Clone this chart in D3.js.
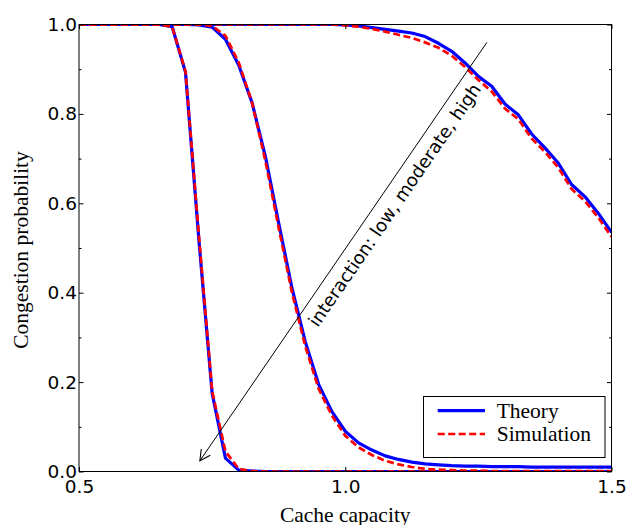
<!DOCTYPE html>
<html>
<head>
<meta charset="utf-8">
<script src="https://cdn.jsdelivr.net/npm/d3@7"></script>
<style>
  body { margin: 0; background: #fff; }
  svg { display: block; }
</style>
</head>
<body>
<svg id="chart" width="629" height="525"></svg>
<script>
// cache capacity values (x)
var capacity = [0.5, 0.525, 0.55, 0.575, 0.6, 0.625, 0.65, 0.675, 0.7, 0.725,
  0.75, 0.775, 0.8, 0.825, 0.85, 0.875, 0.9, 0.925, 0.95, 0.975,
  1.0, 1.025, 1.05, 1.075, 1.1, 1.125, 1.15, 1.175, 1.2, 1.225,
  1.25, 1.275, 1.3, 1.325, 1.35, 1.375, 1.4, 1.425, 1.45, 1.475, 1.5];

// theory curves
var theoryLow = [1, 1, 1, 1, 1, 1, 1, 0.995, 0.893, 0.52,
  0.175, 0.03, 0.003, 0.001, 0, 0, 0, 0, 0, 0,
  0, 0, 0, 0, 0, 0, 0, 0, 0, 0,
  0, 0, 0, 0, 0, 0, 0, 0, 0, 0, 0];
var theoryMid = [1, 1, 1, 1, 1, 1, 1, 1, 1, 0.999,
  0.994, 0.967, 0.909, 0.825, 0.705, 0.556, 0.41, 0.29, 0.195, 0.134,
  0.09, 0.064, 0.048, 0.035, 0.027, 0.021, 0.017, 0.015, 0.013, 0.012,
  0.012, 0.011, 0.011, 0.011, 0.01, 0.01, 0.01, 0.01, 0.01, 0.01, 0.01];
var theoryHigh = [1, 1, 1, 1, 1, 1, 1, 1, 1, 1,
  1, 1, 1, 1, 1, 1, 1, 1, 1, 1,
  0.999, 0.997, 0.993, 0.989, 0.985, 0.981, 0.973, 0.958, 0.94, 0.914,
  0.884, 0.862, 0.822, 0.798, 0.755, 0.724, 0.69, 0.642, 0.615, 0.578, 0.535];

// simulation curves
var simLow = [1, 1, 1, 1, 1, 1, 1, 0.995, 0.895, 0.53,
  0.18, 0.045, 0.006, 0.001, 0, 0, 0, 0, 0, 0,
  0, 0, 0, 0, 0, 0, 0, 0, 0, 0,
  0, 0, 0, 0, 0, 0, 0, 0, 0, 0, 0];
var simMid = [1, 1, 1, 1, 1, 1, 1, 1, 1, 1,
  0.997, 0.975, 0.915, 0.825, 0.695, 0.545, 0.4, 0.28, 0.185, 0.125,
  0.08, 0.054, 0.037, 0.024, 0.016, 0.01, 0.006, 0.004, 0.003, 0.002,
  0.002, 0.001, 0.001, 0.001, 0.001, 0.001, 0.001, 0.001, 0.001, 0.001, 0.001];
var simHigh = [1, 1, 1, 1, 1, 1, 1, 1, 1, 1,
  1, 1, 1, 1, 1, 1, 1, 1, 1, 1,
  0.998, 0.995, 0.99, 0.984, 0.977, 0.97, 0.96, 0.948, 0.93, 0.905,
  0.876, 0.85, 0.812, 0.788, 0.745, 0.715, 0.68, 0.632, 0.605, 0.568, 0.525];

var xTicks = [0.5, 1.0, 1.5];
var yTicks = [0, 0.2, 0.4, 0.6, 0.8, 1.0];
var yMinor = [0.1, 0.3, 0.5, 0.7, 0.9];
var legendNames = ["Theory", "Simulation"];
var note = "interaction: low, moderate, high";
var arrowFrom = [1.266, 0.96], arrowTo = [0.727, 0.024];
var noteAt = [0.9485, 0.321];

var padL = 79, padR = 611.5, padT = 24.5, padB = 471.5;

var svg = d3.select("#chart");

var x = d3.scaleLinear().domain([0.5, 1.5]).range([padL, padR]);
var y = d3.scaleLinear().domain([0, 1]).range([padB, padT]);

var defs = svg.append("defs");
defs.append("clipPath").attr("id", "clip")
  .append("rect")
  .attr("x", padL).attr("y", padT)
  .attr("width", padR - padL).attr("height", padB - padT);

var marker = defs.append("marker")
  .attr("id", "head")
  .attr("markerUnits", "userSpaceOnUse")
  .attr("markerWidth", 24).attr("markerHeight", 24)
  .attr("refX", 12).attr("refY", 12)
  .attr("orient", "auto");
marker.append("path")
  .attr("d", "M1.5,6.5 L12,12 L1.5,17.5")
  .attr("fill", "none").attr("stroke", "#000").attr("stroke-width", 1.1);

var line = d3.line()
  .x(function(d, i) { return x(capacity[i]); })
  .y(function(d) { return y(d); });

var plot = svg.append("g").attr("clip-path", "url(#clip)");

[theoryLow, theoryMid, theoryHigh].forEach(function(s) {
  plot.append("path").datum(s)
    .attr("d", line)
    .attr("fill", "none")
    .attr("stroke", "#0000ff")
    .attr("stroke-width", 3.2)
    .attr("stroke-linejoin", "round");
});
[simLow, simMid, simHigh].forEach(function(s) {
  plot.append("path").datum(s)
    .attr("d", line)
    .attr("fill", "none")
    .attr("stroke", "#ff0000")
    .attr("stroke-width", 2.7)
    .attr("stroke-dasharray", "7,3.5");
});

// annotation arrow + text
svg.append("line")
  .attr("x1", x(arrowFrom[0])).attr("y1", y(arrowFrom[1]))
  .attr("x2", x(arrowTo[0])).attr("y2", y(arrowTo[1]))
  .attr("stroke", "#000").attr("stroke-width", 1)
  .attr("marker-end", "url(#head)");

var ang = Math.atan2(y(arrowFrom[1]) - y(arrowTo[1]), x(arrowFrom[0]) - x(arrowTo[0])) * 180 / Math.PI;
svg.append("text")
  .attr("transform", "translate(" + x(noteAt[0]) + "," + y(noteAt[1]) + ") rotate(" + ang + ")")
  .attr("font-family", "DejaVu Sans")
  .attr("font-size", 18)
  .text(note);

// axes (ticks inward)
function styleAxis(g) {
  g.select(".domain").remove();
  g.selectAll(".tick line").attr("stroke", "#000");
  g.selectAll("text").attr("font-family", "DejaVu Sans").attr("font-size", 18.5).attr("fill", "#000");
}

svg.append("g").attr("transform", "translate(0," + padB + ")")
  .call(d3.axisBottom(x).tickValues(xTicks).tickFormat(d3.format(".1f")).tickSize(-4.5).tickPadding(8.5))
  .call(styleAxis);
svg.append("g").attr("transform", "translate(0," + padT + ")")
  .call(d3.axisTop(x).tickValues(xTicks).tickFormat("").tickSize(-4.5))
  .call(styleAxis);
svg.append("g").attr("transform", "translate(" + padL + ",0)")
  .call(d3.axisLeft(y).tickValues(yTicks).tickFormat(d3.format(".1f")).tickSize(-4.5).tickPadding(2))
  .call(styleAxis);
svg.append("g").attr("transform", "translate(" + padL + ",0)")
  .call(d3.axisLeft(y).tickValues(yMinor).tickFormat("").tickSize(-2.5))
  .call(styleAxis);
svg.append("g").attr("transform", "translate(" + padR + ",0)")
  .call(d3.axisRight(y).tickValues(yTicks).tickFormat("").tickSize(-4.5))
  .call(styleAxis);
svg.append("g").attr("transform", "translate(" + padR + ",0)")
  .call(d3.axisRight(y).tickValues(yMinor).tickFormat("").tickSize(-2.5))
  .call(styleAxis);

svg.append("rect")
  .attr("x", padL).attr("y", padT)
  .attr("width", padR - padL).attr("height", padB - padT)
  .attr("fill", "none").attr("stroke", "#000").attr("stroke-width", 1);

// axis labels
svg.append("text")
  .attr("x", (padL + padR) / 2).attr("y", 521.5)
  .attr("text-anchor", "middle")
  .attr("font-family", "Liberation Serif").attr("font-size", 21.5)
  .text("Cache capacity");
svg.append("text")
  .attr("transform", "translate(27.5,250) rotate(-90)")
  .attr("text-anchor", "middle")
  .attr("font-family", "Liberation Serif").attr("font-size", 21.5)
  .text("Congestion probability");

// legend
var lg = svg.append("g");
lg.append("rect")
  .attr("x", 423.5).attr("y", 396.5).attr("width", 181.5).attr("height", 61)
  .attr("fill", "#fff").attr("stroke", "#000").attr("stroke-width", 1);
var legendRow = lg.selectAll("g.row").data(legendNames).enter().append("g")
  .attr("class", "row")
  .attr("transform", function(d, i) { return "translate(0," + (410.7 + i * 23.3) + ")"; });
legendRow.append("line")
  .attr("x1", 437.7).attr("x2", 485)
  .attr("stroke", function(d, i) { return i === 0 ? "#0000ff" : "#ff0000"; })
  .attr("stroke-width", function(d, i) { return i === 0 ? 3.2 : 2.7; })
  .attr("stroke-dasharray", function(d, i) { return i === 0 ? null : "7,3.5"; });
legendRow.append("text")
  .attr("x", 496.7).attr("y", 7)
  .attr("font-family", "Liberation Serif").attr("font-size", 21.5)
  .text(function(d) { return d; });
</script>
</body>
</html>
